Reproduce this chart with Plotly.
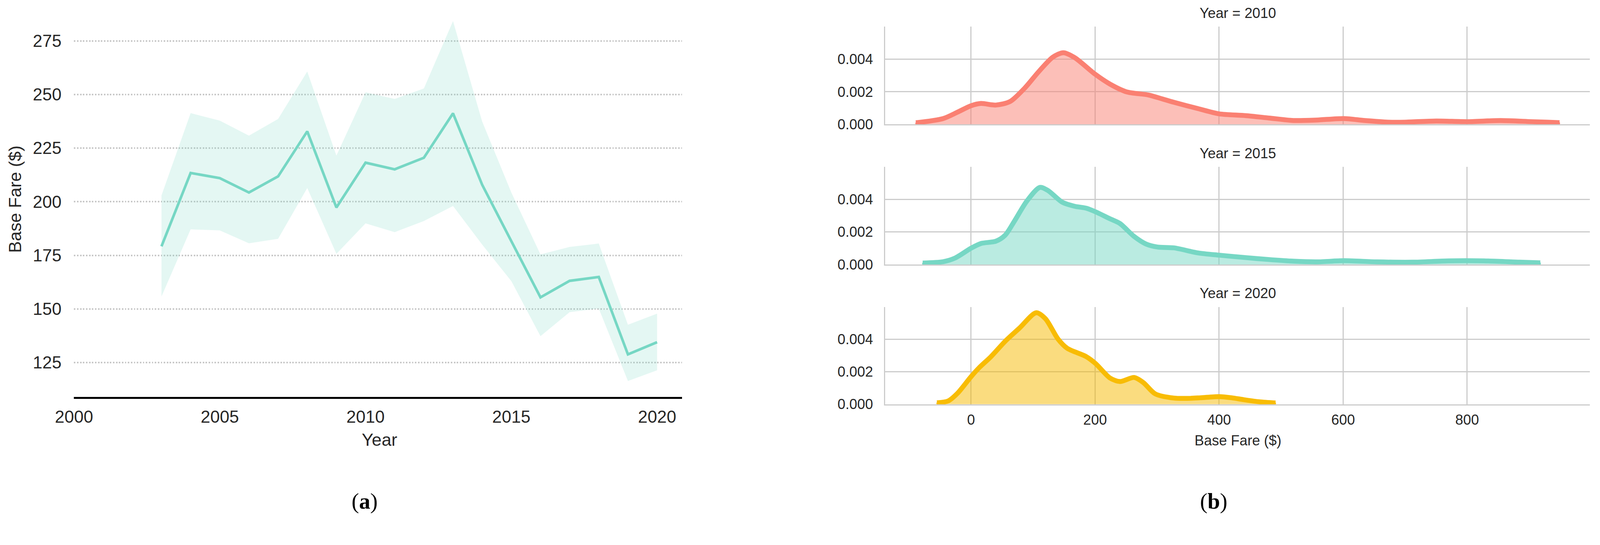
import plotly.graph_objects as go

# ---------------- data: panel (a) ----------------
years = list(range(2003, 2021))
mean_fare = [179.2, 213.4, 211.0, 204.3, 211.8, 232.8, 197.3, 218.2, 215.1,
             220.5, 241.2, 207.9, 181.6, 155.4, 163.1, 164.9, 128.8, 134.5]
ci_upper = [202.9, 241.3, 237.8, 230.8, 238.6, 260.7, 221.5, 251.0, 247.9,
            252.8, 284.2, 237.4, 204.3, 175.4, 178.9, 180.5, 142.6, 147.8]
ci_lower = [155.8, 187.1, 186.6, 180.6, 182.7, 206.4, 175.7, 189.9, 185.8,
            191.0, 198.0, 180.0, 163.0, 137.3, 148.5, 150.2, 116.4, 121.4]
year_ticks = [2000, 2005, 2010, 2015, 2020]
fare_ticks = [125, 150, 175, 200, 225, 250, 275]

# ---------------- data: panel (b) KDE curves ----------------
facet_years = [2010, 2015, 2020]
fare_grid_2010 = [-89, -45, -22, 0, 16, 40, 63, 86, 109, 132, 149, 167, 200, 224, 251, 286,
                  309, 327, 366, 400, 443, 481, 520, 558, 601, 635, 673, 700, 750, 801, 854,
                  904, 930, 949]
density_2010 = [0.00009, 0.00035, 0.00074, 0.00114, 0.00128, 0.00118, 0.0014, 0.0022, 0.00323,
                0.00413, 0.0044, 0.0041, 0.00308, 0.00247, 0.00199, 0.0018, 0.00155, 0.00135,
                0.00096, 0.00064, 0.00053, 0.00038, 0.00023, 0.00026, 0.00035, 0.00023,
                0.00013, 0.00013, 0.0002, 0.00016, 0.00023, 0.00016, 0.00013, 0.0001]
fare_grid_2015 = [-78, -45, -26, 0, 16, 40, 55, 70, 90, 111, 124, 147, 167, 186, 200, 224, 240,
                  263, 282, 301, 327, 366, 400, 443, 481, 520, 558, 601, 654, 712, 770, 827,
                  885, 918]
density_2015 = [0.00009, 0.00017, 0.00039, 0.001, 0.00129, 0.00143, 0.0018, 0.00267, 0.0039,
                0.00474, 0.00455, 0.00383, 0.00358, 0.00346, 0.00325, 0.00281, 0.00252,
                0.00172, 0.00126, 0.00107, 0.00102, 0.00071, 0.00057, 0.00042, 0.0003,
                0.0002, 0.00016, 0.00023, 0.00016, 0.00014, 0.00022, 0.00022, 0.00014, 0.0001]
fare_grid_2020 = [-55, -37, -22, 0, 13, 32, 55, 78, 105, 120, 140, 155, 186, 201, 224, 240,
                  263, 278, 297, 327, 348, 370, 400, 420, 440, 465, 491]
density_2020 = [0.00009, 0.0002, 0.00067, 0.0017, 0.00225, 0.00293, 0.00388, 0.00469, 0.00564,
                0.00527, 0.00403, 0.00345, 0.00293, 0.0025, 0.00162, 0.0014, 0.00165, 0.00133,
                0.00064, 0.00038, 0.00036, 0.0004, 0.00047, 0.0004, 0.00028, 0.00015, 0.00008]
fare_grids = [fare_grid_2010, fare_grid_2015, fare_grid_2020]
densities = [density_2010, density_2015, density_2020]
base_ticks = [0, 200, 400, 600, 800]
density_ticks = [0.0, 0.002, 0.004]

# ---------------- styles / geometry ----------------
# The page is photographed with a viewport of about 4096x1335 css px scaled up to
# 4280x1395 image px, and the body has an 8 px margin; lay out in those css px.
K = 4280 / 4096
BODY = 8
FW, FH = 4080, 1319
TXT = "#262626"
FONT = "Liberation Sans, Arial, sans-serif"
SERIF = "Liberation Serif, Times New Roman, serif"
mint = "#76d7c4"
line_colors = ["#fa8072", "#76d7c4", "#f8bc04"]
fill_colors = ["rgba(250,128,114,0.5)", "rgba(118,215,196,0.5)", "rgba(246,186,0,0.5)"]


def fx(p):
    return max(0.0, p / K - BODY) / FW


def fy(p):
    return 1 - max(0.0, p / K - BODY) / FH


def fs(v):
    return v / K


def fi(v):
    return int(round(v / K))


fig = go.Figure()

# panel (a): CI band + mean line
fig.add_trace(go.Scatter(x=years, y=ci_upper, mode="lines", line=dict(width=0),
                         hoverinfo="skip", showlegend=False, xaxis="x", yaxis="y"))
fig.add_trace(go.Scatter(x=years, y=ci_lower, mode="lines", line=dict(width=0),
                         fill="tonexty", fillcolor="rgba(118,215,196,0.2)",
                         hoverinfo="skip", showlegend=False, xaxis="x", yaxis="y"))
fig.add_trace(go.Scatter(x=years, y=mean_fare, mode="lines",
                         line=dict(color=mint, width=fs(7)), showlegend=False,
                         xaxis="x", yaxis="y"))

# panel (b): KDE facets
for i, (g, d) in enumerate(zip(fare_grids, densities)):
    xa = "x%d" % (i + 2)
    ya = "y%d" % (i + 2)
    fig.add_trace(go.Scatter(x=[g[0]] + g + [g[-1]], y=[0] + d + [0], mode="lines",
                             fill="toself", fillcolor=fill_colors[i],
                             line=dict(color=line_colors[i], width=2, shape="spline",
                                       smoothing=0.8),
                             hoverinfo="skip", showlegend=False, xaxis=xa, yaxis=ya))
    fig.add_trace(go.Scatter(x=g, y=d, mode="lines",
                             line=dict(color=line_colors[i], width=fs(13), shape="spline",
                                       smoothing=0.8),
                             showlegend=False, xaxis=xa, yaxis=ya))

layout = dict(
    template="none",
    width=FW, height=FH, margin=dict(l=0, r=0, t=0, b=0, pad=0),
    paper_bgcolor="white", plot_bgcolor="white",
    font=dict(family=FONT, color=TXT),
    xaxis=dict(domain=[fx(198), fx(1824)], range=[2000, 2020.85],
               tickvals=year_ticks, showgrid=False, zeroline=False,
               showline=True, linecolor="black", linewidth=fs(5.5),
               ticks="", ticklabelstandoff=fi(8), tickfont=dict(size=fs(46), color=TXT)),
    yaxis=dict(domain=[fy(1062), fy(4)], range=[108.9, 292.6],
               tickvals=fare_ticks, showgrid=True, gridcolor="#c8c8c8", gridwidth=fs(4),
               griddash="dot", zeroline=False, showline=False, ticks="",
               ticklabelstandoff=fi(32), tickfont=dict(size=fs(46), color=TXT)),
)

rows_px = [(71.4, 332.3), (446.4, 707.3), (820.8, 1081.2)]
for i, (top, bot) in enumerate(rows_px):
    n = i + 2
    layout["xaxis%d" % n] = dict(
        domain=[fx(2368), fx(4253)], range=[-138.4, 998], anchor="y%d" % n,
        tickvals=base_ticks, showticklabels=(i == 2), showgrid=True,
        gridcolor="#cccccc", gridwidth=fs(3), zeroline=False, showline=True,
        linecolor="#cccccc", linewidth=fs(3), ticks="", ticklabelstandoff=fi(6),
        tickfont=dict(size=fs(38), color=TXT))
    layout["yaxis%d" % n] = dict(
        domain=[fy(bot), fy(top)], range=[0, 0.006], anchor="x%d" % n,
        tickvals=density_ticks, tickformat=".3f", showgrid=True,
        gridcolor="#cccccc", gridwidth=fs(3), zeroline=False, showline=True,
        linecolor="#cccccc", linewidth=fs(3), ticks="", ticklabelstandoff=fi(22),
        tickfont=dict(size=fs(38), color=TXT))

fig.update_layout(**layout)

annotations = [
    dict(text="Year", x=fx(1015), y=fy(1176), font=dict(size=fs(47), color=TXT)),
    dict(text="Base Fare ($)", x=fx(40), y=fy(533), textangle=-90,
         font=dict(size=fs(47), color=TXT)),
    dict(text="Base Fare ($)", x=fx(3311), y=fy(1178), font=dict(size=fs(38), color=TXT)),
    dict(text="(<b>a</b>)", x=fx(975), y=fy(1341),
         font=dict(size=fs(60), color="black", family=SERIF)),
    dict(text="(<b>b</b>)", x=fx(3247), y=fy(1341),
         font=dict(size=fs(60), color="black", family=SERIF)),
]
for yr, ty in zip(facet_years, [35, 410, 784.4]):
    annotations.append(dict(text="Year = %d" % yr, x=fx(3311), y=fy(ty),
                            font=dict(size=fs(38), color=TXT)))
for a in annotations:
    a.update(xref="paper", yref="paper", showarrow=False, xanchor="center", yanchor="middle")
fig.update_layout(annotations=annotations)

fig.write_html("out.html")
